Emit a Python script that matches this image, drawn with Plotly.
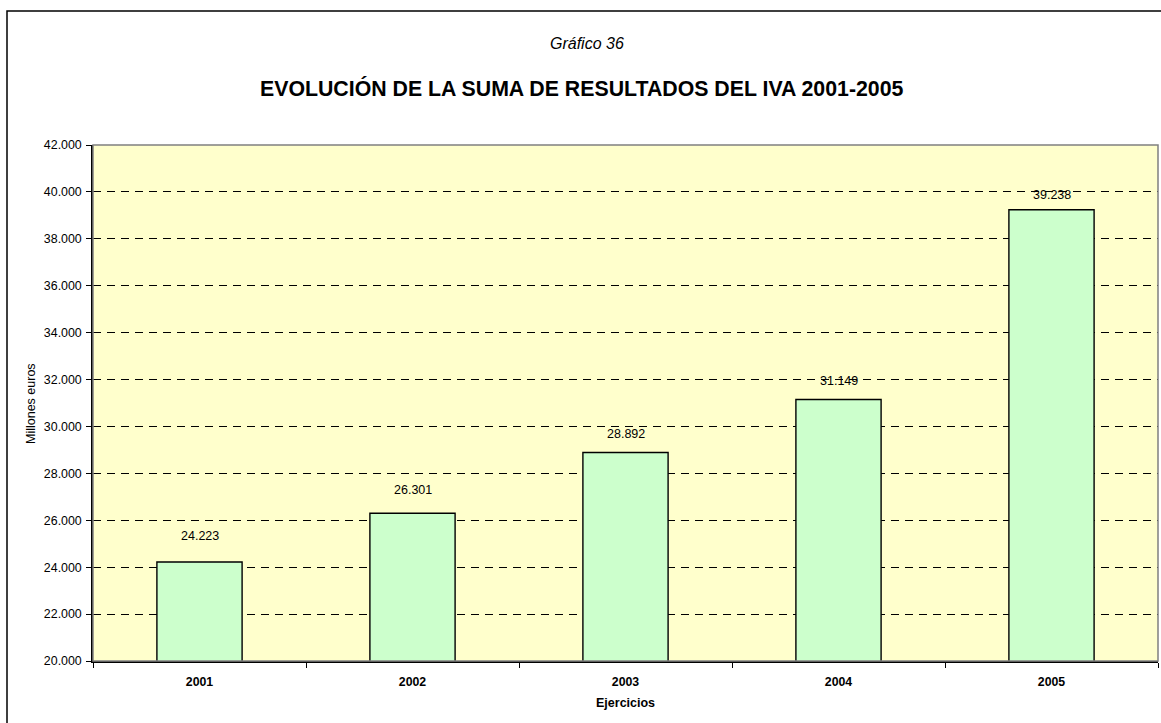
import plotly.graph_objects as go

# IVA results by fiscal year (millions of euros)
years = ["2001", "2002", "2003", "2004", "2005"]
resultados = [24223, 26301, 28892, 31149, 39238]
y_ticks = list(range(20000, 42001, 2000))

# vertical gap (px) between each bar top and the centre of its value label
label_gap = [26, 23, 18, 19, 15]

W, H = 1161, 723
L, R, T, B = 93, 3, 145, 62
pw, ph = W - L - R, H - T - B

def px_x(x):
    return (x - L) / pw

def px_y(y):
    return (H - B - y) / ph

FONT = "Liberation Sans, Arial, sans-serif"

def fmt(v):
    return f"{v:,}".replace(",", ".")

fig = go.Figure()
fig.add_trace(go.Bar(
    x=years, y=resultados,
    marker=dict(color="#CCFFCC", line=dict(color="#000000", width=1.4)),
    width=0.4,
    hoverinfo="skip",
))

# value labels above each bar (category axis positions are serial indices)
annotations = []
for i, (v, g) in enumerate(zip(resultados, label_gap)):
    annotations.append(dict(
        x=i, y=v, xref="x", yref="y", text=fmt(v), showarrow=False,
        xanchor="center", yanchor="middle", yshift=g,
        font=dict(family=FONT, size=12.5, color="#000000"),
    ))

annotations += [
    dict(x=px_x(587), y=px_y(43), xref="paper", yref="paper", text="<i>Gráfico 36</i>",
         xanchor="center", yanchor="middle",
         showarrow=False, font=dict(family=FONT, size=16, color="#000000")),
    dict(x=px_x(582), y=px_y(88), xref="paper", yref="paper",
         text="<b>EVOLUCIÓN DE LA SUMA DE RESULTADOS DEL IVA 2001-2005</b>",
         xanchor="center", yanchor="middle",
         showarrow=False, font=dict(family=FONT, size=21.3, color="#000000")),
    dict(x=px_x(31), y=0.5, xref="paper", yref="paper", text="Millones euros",
         xanchor="center", yanchor="middle",
         showarrow=False, textangle=-90, font=dict(family=FONT, size=12.5, color="#000000")),
    dict(x=0.5, y=px_y(703), xref="paper", yref="paper", text="<b>Ejercicios</b>",
         xanchor="center", yanchor="middle",
         showarrow=False, font=dict(family=FONT, size=12.5, color="#000000")),
]

shapes = [
    # chart frame
    dict(type="rect", xref="paper", yref="paper",
         x0=px_x(7), x1=px_x(1200), y0=px_y(760), y1=px_y(11),
         line=dict(color="#000000", width=1.5), fillcolor="rgba(0,0,0,0)", layer="below"),
    # plot area border
    dict(type="rect", xref="paper", yref="paper", x0=0, x1=1, y0=0, y1=1,
         line=dict(color="#808080", width=1.5), fillcolor="rgba(0,0,0,0)", layer="above"),
]

fig.update_layout(
    width=W, height=H,
    margin=dict(l=L, r=R, t=T, b=B, pad=0),
    paper_bgcolor="#FFFFFF",
    plot_bgcolor="#FFFFCC",
    separators=",.",
    showlegend=False,
    bargap=0.6,
    font=dict(family=FONT, size=12, color="#000000"),
    annotations=annotations,
    shapes=shapes,
    xaxis=dict(
        type="category",
        range=[-0.5, len(years) - 0.5],
        showgrid=False,
        showline=True, linecolor="#000000", linewidth=1.5,
        ticks="outside", ticklen=5, tickcolor="#000000", tickson="boundaries",
        tickfont=dict(family=FONT, size=12.3, color="#000000", weight="bold"),
        ticklabelstandoff=8,
    ),
    yaxis=dict(
        range=[20000, 42000],
        tickvals=y_ticks,
        tickformat=",d",
        showgrid=True, gridcolor="#000000", gridwidth=1, griddash="8px,6px",
        showline=True, linecolor="#000000", linewidth=1.5,
        ticks="outside", ticklen=5, tickcolor="#000000",
        tickfont=dict(family=FONT, size=12.4, color="#000000"),
        ticklabelstandoff=2,
        zeroline=False,
    ),
)

fig.write_html("out.html")
